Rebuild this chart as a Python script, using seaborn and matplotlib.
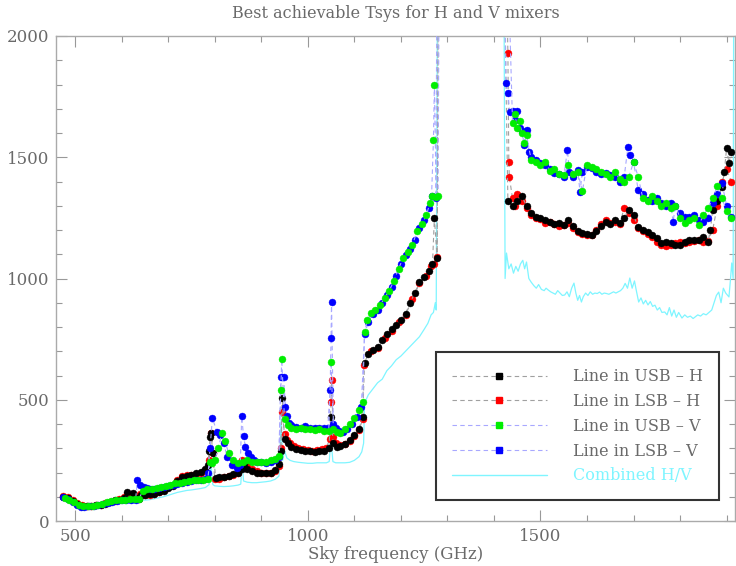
import matplotlib
matplotlib.use("Agg")
import matplotlib.pyplot as plt
import seaborn as sns
import pandas as pd
from matplotlib.lines import Line2D
from matplotlib.ticker import MultipleLocator

sns.set_style("ticks")
plt.rcParams['font.family'] = ['DejaVu Serif', 'DejaVu Sans']

TITLE = "Best achievable Tsys for H and V mixers"
XLABEL = "Sky frequency (GHz)"
series_labels = ["Line in USB \u2013 H", "Line in LSB \u2013 H",
                 "Line in USB \u2013 V", "Line in LSB \u2013 V", "Combined H/V"]

# (frequency GHz, Tsys K)
usb_h = [(475,100),(485,95),(495,82),(505,70),(515,62),(525,62),(535,63),(545,64),(555,66),(565,72),
         (575,80),(585,85),(595,88),(605,95),(612,118),(618,90),(625,115),(632,95),(638,92),
         (642,108),(650,106),(660,110),(670,113),(680,118),(690,125),(700,135),(710,145),(720,165),
         (730,180),(740,186),(750,190),(760,196),(770,204),(780,215),(785,230),(788,290),(790,345),
         (793,362),(797,280),
         (802,178),(810,180),(820,182),(830,186),(840,192),(850,200),(858,215),(862,235),(870,215),
         (880,205),(890,200),(900,196),(910,196),(920,200),(930,210),(938,235),(942,290),(945,507),
         (950,340),(958,320),(965,305),(975,298),(985,292),(995,290),(1005,288),(1015,286),(1025,288),
         (1035,290),(1045,300),(1050,430),(1055,320),(1062,305),(1070,308),(1080,318),(1090,334),
         (1100,355),(1110,380),(1118,429),
         (1122,652),(1130,690),(1140,705),(1150,719),(1160,745),(1170,770),(1180,790),(1190,810),
         (1200,830),(1210,855),(1220,900),(1230,940),(1240,985),(1250,1005),(1260,1030),(1268,1060),
         (1272,1250),(1278,1085),(1282,3000),
         (1416,3000),(1430,1320),(1440,1300),(1450,1320),(1460,1340),(1470,1300),(1480,1270),
         (1490,1255),(1500,1250),(1510,1240),(1520,1234),(1530,1225),(1540,1230),(1550,1222),
         (1560,1240),(1570,1215),(1580,1195),(1590,1187),(1600,1185),(1610,1180),(1620,1195),
         (1630,1215),(1640,1234),(1650,1225),(1660,1240),(1670,1229),(1680,1250),(1690,1282),
         (1700,1260),(1710,1212),(1720,1200),(1730,1190),(1740,1180),(1750,1165),(1760,1146),
         (1770,1150),(1780,1145),(1790,1140),(1800,1138),(1810,1150),(1820,1160),(1830,1160),
         (1840,1159),(1850,1170),(1860,1150),(1865,1200),(1870,1282),(1880,1320),(1890,1377),
         (1895,1440),(1900,1538),(1905,1476),(1910,1520)]

lsb_h = [(475,102),(485,98),(495,88),(505,74),(515,64),(525,62),(535,63),(545,65),(555,68),(565,73),
         (575,79),(585,84),(595,90),(605,100),(612,110),(620,95),(628,98),(636,94),
         (640,110),(650,107),(660,108),(670,112),(680,118),(690,128),(700,140),(710,150),(720,168),
         (730,185),(740,190),(750,188),(760,194),(770,200),(780,212),(788,250),(792,362),(796,280),
         (800,172),(810,175),(820,180),(830,185),(840,190),(850,200),(858,250),(864,240),(870,228),
         (880,215),(890,205),(900,200),(910,198),(920,198),(930,205),(938,225),(942,300),(945,451),
         (950,360),(955,335),(962,320),(970,310),(980,300),(990,296),(1000,292),(1010,290),(1020,292),
         (1030,295),(1040,300),(1047,340),(1050,492),(1051,581),(1055,345),(1060,320),(1070,312),
         (1080,318),(1090,330),(1100,350),(1110,375),(1118,420),
         (1120,645),(1135,700),(1150,715),(1165,755),(1180,785),(1195,820),(1210,850),(1225,915),
         (1240,980),(1255,1010),(1265,1050),(1272,1060),(1278,1090),(1282,3000),
         (1420,3000),(1430,1930),(1432,1480),(1433,1420),(1440,1330),(1445,1300),(1450,1350),
         (1460,1320),(1470,1290),(1480,1260),(1490,1250),(1500,1245),(1510,1230),(1520,1235),
         (1530,1225),(1540,1215),(1550,1220),(1560,1230),(1570,1210),(1580,1190),(1590,1185),
         (1600,1180),(1610,1178),(1620,1200),(1630,1225),(1640,1240),(1650,1230),(1660,1235),
         (1670,1225),(1680,1290),(1690,1270),(1700,1240),(1710,1210),(1720,1195),(1730,1185),
         (1740,1170),(1750,1150),(1760,1140),(1770,1135),(1780,1140),(1790,1145),(1800,1150),
         (1810,1145),(1820,1150),(1830,1155),(1840,1160),(1850,1150),(1860,1155),(1870,1200),
         (1880,1300),(1890,1400),(1900,1450),(1910,1400)]

usb_v = [(478,95),(488,88),(498,78),(508,66),(518,60),(528,60),(538,62),(548,66),(558,72),(568,78),
         (578,82),(588,85),(598,87),(608,88),(618,92),(628,90),(638,92),
         (645,125),(655,132),(665,134),(675,138),(685,142),(695,145),(705,150),(715,155),(725,158),
         (735,162),(745,166),(755,169),(765,170),(775,170),(785,175),(790,245),(795,240),
         (800,250),(808,300),(815,362),(822,330),(830,280),(840,250),(850,240),(860,245),(870,250),
         (880,245),(890,242),(900,243),(910,245),(920,250),(930,255),(938,270),(942,540),(944,668),
         (950,420),(958,395),(965,385),(975,380),(985,385),(995,378),(1005,380),(1015,375),
         (1025,378),(1035,372),(1045,372),(1050,657),(1055,380),(1062,365),(1070,363),(1080,380),
         (1090,400),(1100,425),(1110,458),(1118,490),
         (1122,779),(1128,830),(1136,857),(1145,870),(1155,890),(1165,920),(1175,950),(1185,990),
         (1195,1040),(1205,1085),(1215,1110),(1225,1140),(1235,1195),(1245,1225),(1255,1260),
         (1262,1310),(1266,1340),(1270,1570),(1272,1798),(1276,1336),(1280,1340),(1284,3000),
         (1420,3000),(1440,1640),(1445,1680),(1450,1620),(1455,1650),(1460,1600),(1465,1560),
         (1470,1590),(1480,1490),(1490,1480),(1500,1470),(1510,1480),(1520,1445),(1530,1450),
         (1540,1430),(1550,1425),(1560,1470),(1570,1430),(1580,1440),(1590,1360),(1600,1470),
         (1610,1460),(1620,1450),(1630,1440),(1640,1430),(1650,1420),(1660,1440),(1670,1410),
         (1680,1400),(1690,1420),(1700,1480),(1710,1420),(1720,1330),(1730,1320),(1740,1340),
         (1750,1320),(1760,1300),(1770,1310),(1780,1290),(1790,1300),(1800,1250),(1810,1230),
         (1820,1240),(1830,1250),(1840,1220),(1850,1260),(1860,1290),(1870,1330),(1880,1380),
         (1890,1330),(1900,1280),(1910,1250)]

lsb_v = [(475,98),(485,90),(495,80),(505,65),(512,56),(520,57),(530,60),(540,63),(550,66),(560,70),
         (570,76),(580,80),(590,84),(600,85),(610,86),(620,85),(630,88),
         (634,169),(640,150),(648,140),(655,135),(662,130),(670,132),(680,136),(690,140),(700,146),
         (710,150),(720,154),(730,158),(740,162),(750,165),(760,168),(770,168),(780,172),(786,200),
         (790,300),(795,424),
         (805,368),(812,355),(819,320),(827,265),(838,231),(848,218),(855,230),(858,431),(862,350),
         (866,306),(872,280),(877,265),(885,250),(891,245),(900,242),(910,240),(920,242),(930,250),
         (938,265),(942,595),
         (948,595),(952,471),(956,432),(960,403),(965,395),(975,388),(985,385),(995,390),(1005,385),
         (1015,382),(1025,385),(1035,382),(1043,385),(1048,540),(1050,755),(1051,904),(1055,400),
         (1060,385),(1068,372),(1075,365),(1085,380),(1095,400),(1105,430),(1115,470),
         (1122,770),(1130,820),(1140,855),(1150,872),(1160,900),(1170,930),(1180,965),(1190,1010),
         (1200,1060),(1210,1095),(1220,1120),(1230,1160),(1240,1210),(1250,1240),(1260,1290),
         (1268,1340),(1275,1330),(1280,3000),
         (1418,3000),(1426,1806),(1430,1765),(1434,1687),(1440,1690),(1445,1654),(1450,1690),
         (1455,1620),(1460,1610),(1465,1550),(1470,1612),(1475,1520),(1480,1502),(1490,1490),
         (1500,1476),(1510,1470),(1520,1450),(1530,1435),(1540,1430),(1550,1420),(1558,1530),
         (1562,1440),(1570,1420),(1580,1447),(1585,1357),(1590,1440),(1600,1460),(1610,1455),
         (1620,1440),(1630,1430),(1640,1435),(1650,1425),(1660,1420),(1670,1400),(1680,1420),
         (1688,1544),(1692,1510),(1700,1480),(1710,1365),(1720,1350),(1730,1324),(1740,1320),
         (1750,1330),(1760,1311),(1770,1300),(1780,1311),(1785,1234),(1790,1300),(1800,1270),
         (1810,1255),(1820,1255),(1830,1260),(1840,1241),(1850,1235),(1860,1250),(1870,1311),
         (1880,1350),(1890,1393),(1900,1300),(1910,1255)]

combined = [(475,85),(485,80),(495,70),(505,58),(515,52),(525,52),(535,54),(545,56),(555,58),
            (565,62),(575,66),(585,70),(595,72),(605,74),(615,76),(625,74),(635,76),
            (642,88),(650,86),(660,88),(670,92),(680,96),(690,100),(700,106),(710,112),(720,118),
            (730,122),(740,126),(750,128),(760,131),(770,134),(780,138),(788,150),(792,230),(796,150),
            (800,145),(810,143),(820,142),(830,143),(840,145),(850,148),(856,152),(859,240),(862,165),
            (870,160),(880,158),(890,158),(900,160),(910,162),(920,165),(930,172),(938,185),(943,420),
            (946,250),
            (950,290),(955,260),(962,250),(970,245),(980,242),(990,240),(1000,238),(1010,238),
            (1020,240),(1030,240),(1040,240),(1046,245),(1050,334),(1054,245),(1060,240),(1070,240),
            (1080,240),(1090,242),(1100,250),(1110,265),(1116,285),(1120,321),
            (1122,486),(1130,520),(1140,545),(1150,570),(1160,585),(1170,620),(1180,640),(1190,665),
            (1200,680),(1210,700),(1220,720),(1230,740),(1240,760),(1250,790),(1258,815),(1265,850),
            (1270,860),(1274,900),(1276,870),(1280,3000),
            (1420,3000),(1424,1000),(1427,1105),(1432,1040),(1437,1060),(1442,1022),(1447,1050),
            (1452,1030),(1457,1060),(1462,1075),(1466,1040),(1470,1068),(1475,1000),(1480,985),
            (1486,970),(1491,960),(1496,975),(1502,955),(1508,950),(1512,960),(1517,952),(1522,945),
            (1527,940),(1532,935),(1537,950),(1542,940),(1547,930),(1552,932),(1557,945),(1562,925),
            (1567,960),(1572,981),(1576,940),(1580,910),(1584,930),(1588,903),(1592,925),(1597,940),
            (1602,930),(1607,945),(1612,935),(1617,940),(1622,938),(1627,944),(1632,935),(1637,940),
            (1642,938),(1647,935),(1652,940),(1657,945),(1662,940),(1667,945),(1672,950),(1677,960),
            (1682,980),(1687,960),(1692,1002),(1697,960),(1702,990),(1706,950),(1711,903),(1716,920),
            (1721,895),(1726,910),(1731,891),(1736,905),(1741,885),(1746,890),(1751,870),(1756,880),
            (1761,860),(1767,862),(1772,850),(1777,880),(1782,845),(1787,870),(1792,840),(1797,860),
            (1804,837),(1810,850),(1816,840),(1822,845),(1828,835),(1832,841),(1838,850),(1844,845),
            (1850,855),(1856,850),(1862,860),(1868,870),(1873,900),(1878,930),(1883,944),(1888,900),
            (1893,960),(1898,940),(1905,924),(1908,990),(1911,1064),(1914,1000),(1916,3000)]

marker_colors = ["#000000", "#ff0000", "#00ee00", "#0000ff"]
dash_colors = ["#a0a0a0", "#a0a0a0", "#a8a8ff", "#a8a8ff"]
draw_z = [4, 3, 6, 5]
cyan = "#7ff5ff"
text_color = "#6a6a6a"

fig = plt.figure(figsize=(7.36, 5.66), dpi=100)
ax = fig.add_axes([56/736, 45/566, (735-56)/736, (521-36)/566])

df_c = pd.DataFrame(combined, columns=["freq", "tsys"])
sns.lineplot(data=df_c, x="freq", y="tsys", ax=ax, sort=False, estimator=None,
             color=cyan, lw=0.9, legend=False, zorder=2)

datasets = [usb_h, lsb_h, usb_v, lsb_v]
for i in range(4):
    df = pd.DataFrame(datasets[i], columns=["freq", "tsys"])
    sns.lineplot(data=df, x="freq", y="tsys", ax=ax, sort=False, estimator=None,
                 color=dash_colors[i], lw=0.8, linestyle=(0, (4, 3)),
                 marker="o", markersize=5, markerfacecolor=marker_colors[i],
                 markeredgecolor=marker_colors[i], markeredgewidth=0.3,
                 legend=False, zorder=draw_z[i])

ax.set_xlim(459, 1918)
ax.set_ylim(0, 2000)
ax.xaxis.set_major_locator(MultipleLocator(500))
ax.xaxis.set_minor_locator(MultipleLocator(100))
ax.yaxis.set_major_locator(MultipleLocator(500))
ax.yaxis.set_minor_locator(MultipleLocator(100))
ax.tick_params(which="both", direction="in", top=True, right=True,
               color="#999999", labelcolor=text_color, labelsize=12, pad=5)
ax.tick_params(which="major", length=8, width=0.8)
ax.tick_params(which="minor", length=4, width=0.8)
for s in ax.spines.values():
    s.set_visible(True)
    s.set_color("#aaaaaa")
    s.set_linewidth(1.0)

ax.set_xlabel(XLABEL, fontsize=12, color=text_color, labelpad=1)
ax.set_ylabel("")
fig.text((56 + 735) / 2 / 736, 1 - 13 / 566, TITLE, ha="center", va="center",
         fontsize=11.5, color=text_color)

handles = []
for i in range(4):
    handles.append(Line2D([0], [0], color=dash_colors[i], lw=0.8, linestyle=(0, (4, 3)),
                          marker="s", markersize=5, markerfacecolor=marker_colors[i],
                          markeredgecolor=marker_colors[i]))
handles.append(Line2D([0], [0], color=cyan, lw=1.0))
leg = ax.legend(handles, series_labels, loc="upper left", bbox_to_anchor=(0.559, 0.348),
                fontsize=11.5, handlelength=6.0, handletextpad=1.6, labelspacing=0.49,
                borderpad=1.0, borderaxespad=0, fancybox=False, framealpha=1)
leg.get_frame().set_edgecolor("#333333")
leg.get_frame().set_linewidth(1.5)
for t in leg.get_texts()[:4]:
    t.set_color(text_color)
leg.get_texts()[4].set_color(cyan)

fig.savefig("out.png", dpi=100)
